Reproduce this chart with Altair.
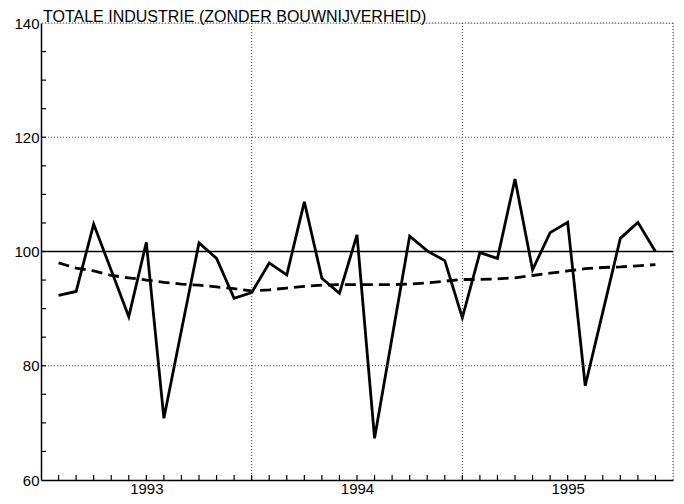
import altair as alt
import pandas as pd

# ---- data ----
months = list(range(1, 36))  # month index, 1 = Jan 1993
production = [92.3, 93.0, 104.8, 96.7, 88.6, 101.6, 70.8, 86.2, 101.5, 98.8, 91.8, 92.8,
              98.0, 95.9, 108.7, 95.3, 92.7, 102.9, 67.3, 85.0, 102.7, 100.1, 98.4, 88.4,
              99.8, 98.8, 112.7, 96.8, 103.3, 105.1, 76.5, 89.4, 102.3, 105.1, 100.0]
trend = [98.0, 97.1, 96.6, 95.8, 95.4, 95.0, 94.6, 94.3, 94.1, 93.8, 93.5, 93.1,
         93.3, 93.6, 93.9, 94.1, 94.2, 94.2, 94.2, 94.2, 94.3, 94.5, 94.8, 95.1,
         95.1, 95.2, 95.4, 95.8, 96.2, 96.6, 97.0, 97.2, 97.3, 97.5, 97.7]
year_labels = ["1993", "1994", "1995"]
year_label_pos = [6, 18, 30]
year_bounds = [12, 24, 36]
x_ticks = list(range(1, 36))
y_labels = [60, 80, 100, 120, 140]
y_grid = [80, 120, 140]
y_ticks = list(range(65, 140, 5))
reference_level = [100]
title_text = ["TOTALE INDUSTRIE (ZONDER BOUWNIJVERHEID)"]

W, H = 632, 457
FONT = "Liberation Sans"

df_prod = pd.DataFrame({"m": months, "v": production})
df_trend = pd.DataFrame({"m": months, "v": trend})
df_vgrid = pd.DataFrame({"m": year_bounds})
df_hgrid = pd.DataFrame({"v": y_grid})
df_ref = pd.DataFrame({"v": reference_level})
df_xt = pd.DataFrame({"m": x_ticks})
df_yt = pd.DataFrame({"v": y_ticks})
df_title = pd.DataFrame({"t": title_text})

xscale = alt.Scale(domain=[0, 36], nice=False, zero=False)
yscale = alt.Scale(domain=[60, 140], nice=False, zero=False)

label_expr = " : ".join(
    f"datum.value == {p} ? '{l}'" for p, l in zip(year_label_pos[:-1], year_labels[:-1])
) + f" : '{year_labels[-1]}'"

x_axis = alt.Axis(values=year_label_pos, labelExpr=label_expr, ticks=False, tickSize=0,
                  grid=False, domain=True, domainColor="black", domainWidth=1.5,
                  labelFontSize=15, labelFont=FONT, labelColor="black", labelPadding=1,
                  labelBaseline="top", title=None)
y_axis = alt.Axis(values=y_labels, ticks=False, tickSize=0, grid=False, domain=True,
                  domainColor="black", domainWidth=1.5, labelFontSize=15, labelFont=FONT,
                  labelColor="black", labelPadding=2, labelBaseline="middle", title=None)

X = lambda f: alt.X(f, scale=xscale, axis=x_axis)
Y = lambda f: alt.Y(f, scale=yscale, axis=y_axis)

grid_style = dict(color="#444444", strokeWidth=1, strokeDash=[1, 2])

vgrid = alt.Chart(df_vgrid).mark_rule(**grid_style).encode(x=X("m:Q"))
hgrid = alt.Chart(df_hgrid).mark_rule(**grid_style).encode(y=Y("v:Q"))
ref = alt.Chart(df_ref).mark_rule(color="black", strokeWidth=1.6).encode(y=Y("v:Q"))
xt = alt.Chart(df_xt).mark_rule(color="black", strokeWidth=1.2).encode(
    x=X("m:Q"), y=alt.value(H), y2=alt.value(H - 5))
yt = alt.Chart(df_yt).mark_rule(color="black", strokeWidth=1.2).encode(
    y=Y("v:Q"), x=alt.value(0), x2=alt.value(5))

trend_line = alt.Chart(df_trend).mark_line(color="black", strokeWidth=2.8,
                                           strokeDash=[11, 6]).encode(x=X("m:Q"), y=Y("v:Q"))
prod_line = alt.Chart(df_prod).mark_line(color="black", strokeWidth=2.8,
                                         strokeJoin="miter").encode(x=X("m:Q"), y=Y("v:Q"))

title = alt.Chart(df_title).mark_text(align="left", baseline="alphabetic", fontSize=16,
                                      font=FONT, color="black").encode(
    text="t:N", x=alt.value(2), y=alt.value(-1))

chart = alt.layer(prod_line, trend_line, vgrid, hgrid, ref, xt, yt, title).properties(
    width=W, height=H,
    autosize=alt.AutoSizeParams(type="none"),
    padding={"left": 33, "top": 15, "right": 3, "bottom": 20},
).configure_view(stroke=None).configure(background="white")

chart.save("out.html", embed_options={"renderer": "svg", "actions": False})
